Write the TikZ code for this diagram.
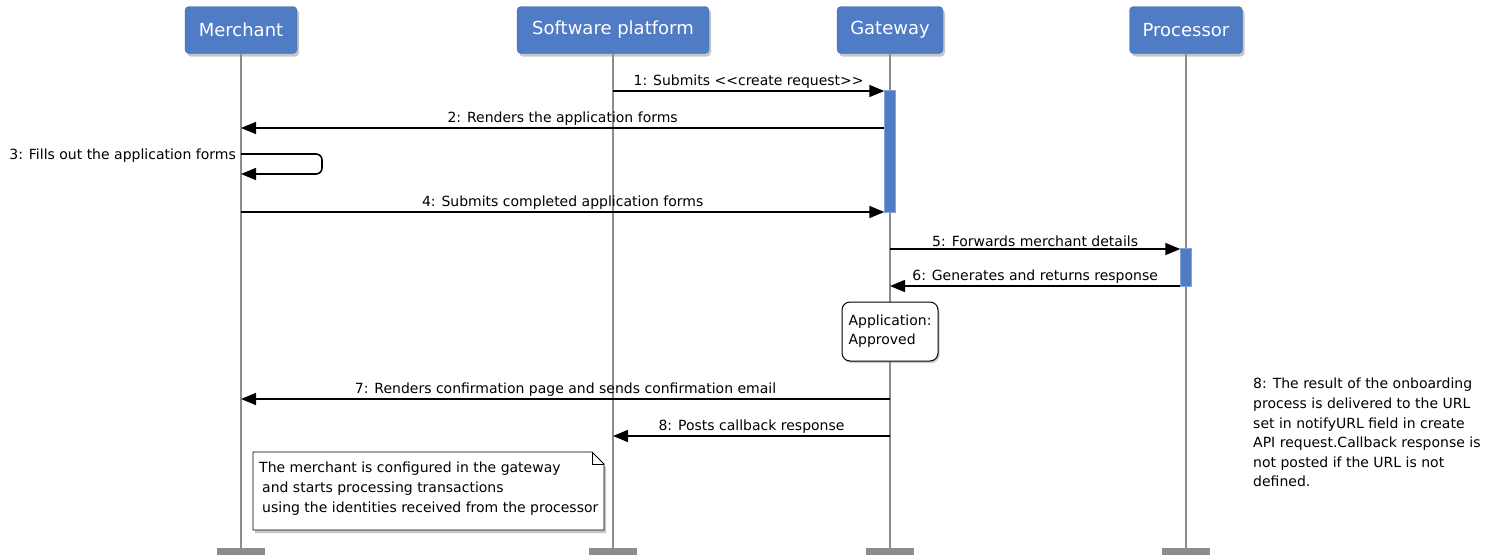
\documentclass[tikz,border=0pt]{standalone}
\usepackage{fontspec}
\setmainfont{DejaVu Sans}
\usepackage{tikz}
\usetikzlibrary{calc,arrows.meta,shadows}
\definecolor{actorblue}{RGB}{80,123,197}
\definecolor{lifegray}{RGB}{140,140,140}
\tikzset{x=1pt, y=-1pt,
	actor/.style={draw=actorblue!85!black, fill=actorblue, rounded corners=4pt,
		minimum width=#1, minimum height=47, text=white,
		font=\fontsize{18}{20}\selectfont,
		drop shadow={shadow xshift=2pt, shadow yshift=-3pt, opacity=0.45}},
	stub/.style={fill=lifegray, minimum width=48, minimum height=7, inner sep=0pt},
	lifeline/.style={draw=lifegray, line width=1.8pt},
	activation/.style={fill=actorblue, draw=actorblue!70!white, minimum width=11,
		inner sep=0pt},
	msg/.style={draw=black, line width=1.6pt, -{Triangle[length=15pt,width=12pt]}},
	msg label/.style={above, inner sep=1.5pt, font=\fontsize{14}{16}\selectfont},
	state note/.style={draw, line width=1pt, fill=white, rounded corners=8pt,
		minimum width=96, minimum height=59, align=left, inner sep=3pt,
		font=\fontsize{14}{19}\selectfont,
		drop shadow={shadow xshift=1.5pt, shadow yshift=-2pt, opacity=0.4}},
	plain text/.style={align=left, inner sep=0pt, font=\fontsize{14}{19.6}\selectfont}
}
\def\Actor#1#2#3#4{%
	\node[actor=#4] (#1) at (#2,30) {#3};
	\node[stub] (#1End) at (#2,551.5) {};
	\draw[lifeline] (#1) -- (#1End);
}
\def\Message#1#2#3#4#5{%
	\coordinate (#1s) at (#2 |- 0,#4);
	\coordinate (#1e) at (#3 |- 0,#4);
	\draw[msg] (#1s) -- node[msg label] {#5} (#1e);
}

\begin{document}
\begin{tikzpicture}
\useasboundingbox (0,0) rectangle (1499,555);
\Actor{merchant}{241}{Merchant}{112}
\Actor{platform}{613}{Software platform}{192}
\Actor{gateway}{890}{Gateway}{106}
\Actor{processor}{1186}{Processor}{113}

\node[activation, minimum height=122] (gwAct) at (890,151) {};
\node[activation, minimum height=38] (procAct) at (1186,267) {};

\Message{m1}{platform}{gwAct.west}{91}{1: Submits <\kern0pt<create request>\kern0pt>}
\Message{m2}{gwAct.west}{merchant}{128}{2: Renders the application forms}
\coordinate (m3s) at (merchant |- 0,154);
\coordinate (m3e) at (merchant |- 0,174);
\draw[msg, rounded corners=6pt] (m3s) -- ++(81,0) |- (m3e);
\node[plain text, anchor=east] (m3label) at ($(m3s)+(-5,2)$) {3: Fills out the application forms};
\Message{m4}{merchant}{gwAct.west}{212}{4: Submits completed application forms}
\Message{m5}{gateway}{procAct.west}{249}{5: Forwards merchant details}
\Message{m6}{procAct.west}{gateway}{286}{6: Generates and returns response}

\node[state note] (approved) at (890,331.5) {Application:\\Approved};

\Message{m7}{gateway}{merchant}{399}{7: Renders confirmation page and sends confirmation email}
\Message{m8}{gateway}{platform}{436}{8: Posts callback response}

\coordinate (noteNW) at (253,452);
\coordinate (noteSE) at (604,530);
\draw[line width=0.8pt, fill=white,
	drop shadow={shadow xshift=2pt, shadow yshift=-3pt, opacity=0.45}]
	(noteNW) -- ($(noteSE|-noteNW)+(-12,0)$) -- ($(noteSE|-noteNW)+(0,12)$)
	-- (noteSE) -- (noteNW|-noteSE) -- cycle;
\draw[line width=0.8pt] ($(noteSE|-noteNW)+(-12,0)$) -- ++(0,12) -- ++(12,0);
\node[plain text, anchor=north west, font=\fontsize{14}{20}\selectfont] (note)
	at ($(noteNW)+(6,10)$) {The merchant is configured in the gateway\\
	\hspace{3pt}and starts processing transactions\\
	\hspace{3pt}using the identities received from the processor};

\node[plain text, anchor=north west] (callbackNote) at (1253,378) {8: The result of the onboarding\\
	process is delivered to the URL\\
	set in notifyURL field in create\\
	API request.Callback response is\\
	not posted if the URL is not\\
	defined.};

\end{tikzpicture}
\end{document}
